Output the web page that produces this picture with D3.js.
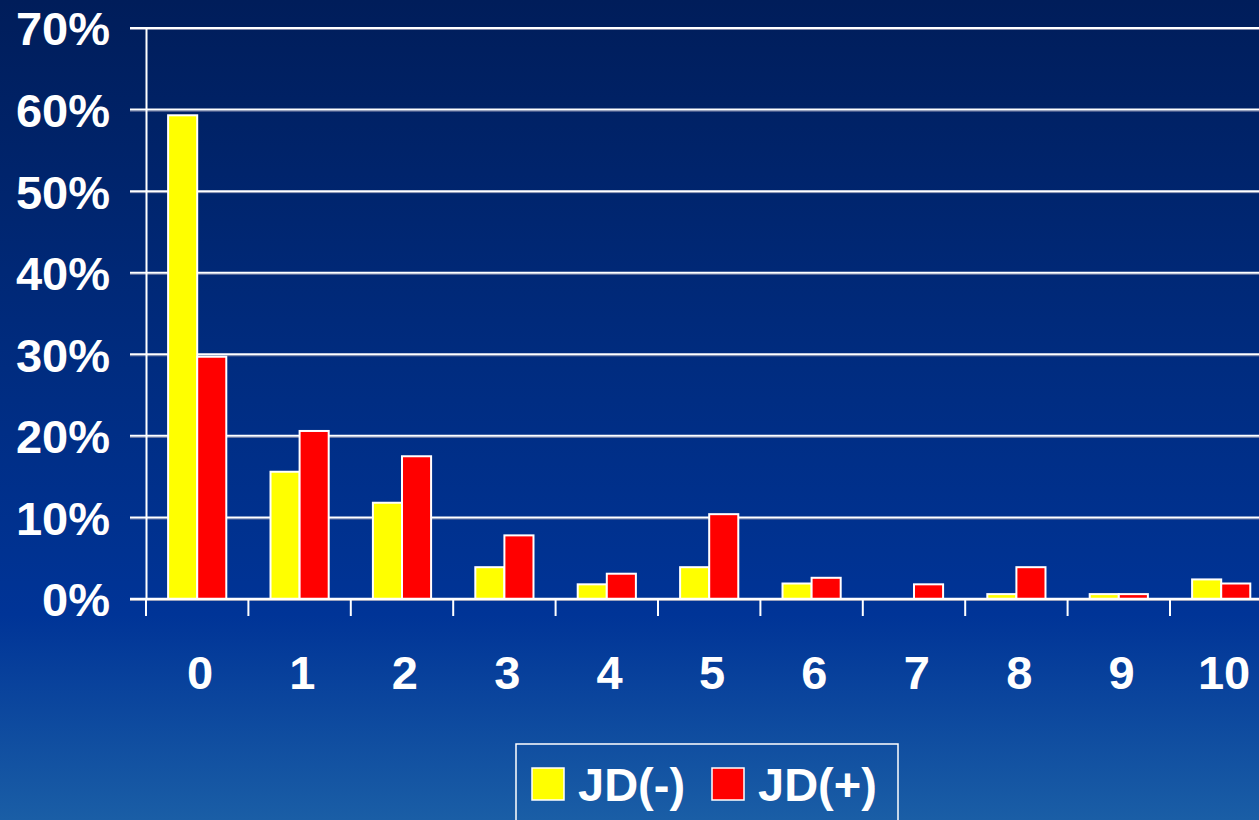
<!DOCTYPE html>
<html>
<head>
<meta charset="utf-8">
<script src="https://cdn.jsdelivr.net/npm/d3@7"></script>
<style>
  html, body { margin: 0; padding: 0; background: #0a2466; }
  svg { display: block; }
  text { font-family: "Liberation Sans", Arial, sans-serif; font-weight: bold; fill: #fff; }
</style>
</head>
<body>
<div id="chart"></div>
<script>
const categories = ['0', '1', '2', '3', '4', '5', '6', '7', '8', '9', '10']
const jdNeg = [59.3, 15.6, 11.8, 3.9, 1.8, 3.9, 1.9, 0, 0.6, 0.6, 2.4]
const jdPos = [29.7, 20.6, 17.5, 7.8, 3.1, 10.4, 2.6, 1.8, 3.9, 0.6, 1.9]
const yTicks = [0, 10, 20, 30, 40, 50, 60, 70]
const seriesNames = ['JD(-)', 'JD(+)']
const seriesColors = ['#ffff00', '#ff0000']

const width = 1259,
  height = 820
const margin = { top: 28, left: 146, bottom: 221 }
const bandW = 102.4

const svg = d3.select('#chart')
  .append('svg')
  .attr('width', width)
  .attr('height', height)

const defs = svg.append('defs')
const grad = defs.append('linearGradient')
  .attr('id', 'bg')
  .attr('x1', 0).attr('y1', 0).attr('x2', 0).attr('y2', 1)
grad.append('stop').attr('offset', '0%').attr('stop-color', '#001d5a')
grad.append('stop').attr('offset', '45%').attr('stop-color', '#002c80')
grad.append('stop').attr('offset', '75%').attr('stop-color', '#003497')
grad.append('stop').attr('offset', '100%').attr('stop-color', '#1a5ea6')

svg.append('rect')
  .attr('width', width)
  .attr('height', height)
  .attr('fill', 'url(#bg)')

const x = d3.scaleBand()
  .domain(categories)
  .range([margin.left, margin.left + bandW * categories.length])
  .paddingInner(0)
  .paddingOuter(0)

const xSub = d3.scaleBand()
  .domain(seriesNames)
  .range([0, x.bandwidth()])
  .paddingOuter(0.76)
  .paddingInner(0)

const y = d3.scaleLinear()
  .domain([0, 70])
  .range([599, margin.top])

// gridlines
const grid = svg.append('g')
grid.selectAll('line.shadow')
  .data(yTicks)
  .enter()
  .append('line')
  .attr('class', 'shadow')
  .attr('x1', 130)
  .attr('x2', width)
  .attr('y1', d => y(d) + 1.5)
  .attr('y2', d => y(d) + 1.5)
  .attr('stroke', '#7d86a8')
  .attr('stroke-width', 1)
grid.selectAll('line.grid')
  .data(yTicks)
  .enter()
  .append('line')
  .attr('class', 'grid')
  .attr('x1', 130)
  .attr('x2', width)
  .attr('y1', d => y(d))
  .attr('y2', d => y(d))
  .attr('stroke', '#ffffff')
  .attr('stroke-width', 2)

// y axis
const yAxis = svg.append('g')
  .attr('transform', 'translate(' + margin.left + ',0)')
  .call(d3.axisLeft(y).tickValues(yTicks).tickSize(0).tickPadding(36).tickFormat(d => d + '%'))
yAxis.select('.domain').attr('stroke', '#fff').attr('stroke-width', 2)
yAxis.selectAll('text')
  .attr('font-size', '47px')
  .attr('fill', '#fff')
  .attr('dy', '0.36em')
  .style('font-family', '"Liberation Sans", Arial, sans-serif')
  .style('font-weight', 'bold')

// x axis
const xAxis = svg.append('g')
  .attr('transform', 'translate(0,' + y(0) + ')')
  .call(d3.axisBottom(x).tickSize(0).tickPadding(57))
xAxis.select('.domain').remove()
xAxis.selectAll('text')
  .attr('font-size', '47px')
  .attr('fill', '#fff')
  .attr('dx', '0.06em')
  .style('font-family', '"Liberation Sans", Arial, sans-serif')
  .style('font-weight', 'bold')

svg.append('g')
  .selectAll('line')
  .data(categories)
  .enter()
  .append('line')
  .attr('x1', d => x(d))
  .attr('x2', d => x(d))
  .attr('y1', y(0))
  .attr('y2', y(0) + 17)
  .attr('stroke', '#fff')
  .attr('stroke-width', 2)

// bars
const rows = categories.map((c, i) => ({ cat: c, vals: [jdNeg[i], jdPos[i]] }))
const groups = svg.append('g')
  .selectAll('g')
  .data(rows)
  .enter()
  .append('g')
  .attr('transform', d => 'translate(' + x(d.cat) + ',0)')

groups.selectAll('rect')
  .data(d => d.vals.map((v, j) => ({ name: seriesNames[j], v: v, color: seriesColors[j] })))
  .enter()
  .filter(d => d.v > 0)
  .append('rect')
  .attr('x', d => xSub(d.name))
  .attr('y', d => y(d.v))
  .attr('width', xSub.bandwidth())
  .attr('height', d => y(0) - y(d.v))
  .attr('fill', d => d.color)
  .attr('stroke', '#fff')
  .attr('stroke-width', 2)

// x baseline on top of bars
svg.append('line')
  .attr('x1', 130)
  .attr('x2', width)
  .attr('y1', y(0))
  .attr('y2', y(0))
  .attr('stroke', '#fff')
  .attr('stroke-width', 2.5)

// legend
const legend = svg.append('g')
legend.append('rect')
  .attr('x', 516)
  .attr('y', 744)
  .attr('width', 382)
  .attr('height', 90)
  .attr('fill', 'none')
  .attr('stroke', '#fff')
  .attr('stroke-width', 1.5)

const legendX = [532, 712]
const legendItems = legend.selectAll('g')
  .data(seriesNames)
  .enter()
  .append('g')
  .attr('transform', (d, i) => 'translate(' + legendX[i] + ',768)')
legendItems.append('rect')
  .attr('width', 32)
  .attr('height', 32)
  .attr('fill', (d, i) => seriesColors[i])
  .attr('stroke', '#fff')
  .attr('stroke-width', 1.5)
legendItems.append('text')
  .attr('x', 46)
  .attr('y', 33)
  .attr('font-size', '47px')
  .text(d => d)
</script>
</body>
</html>
